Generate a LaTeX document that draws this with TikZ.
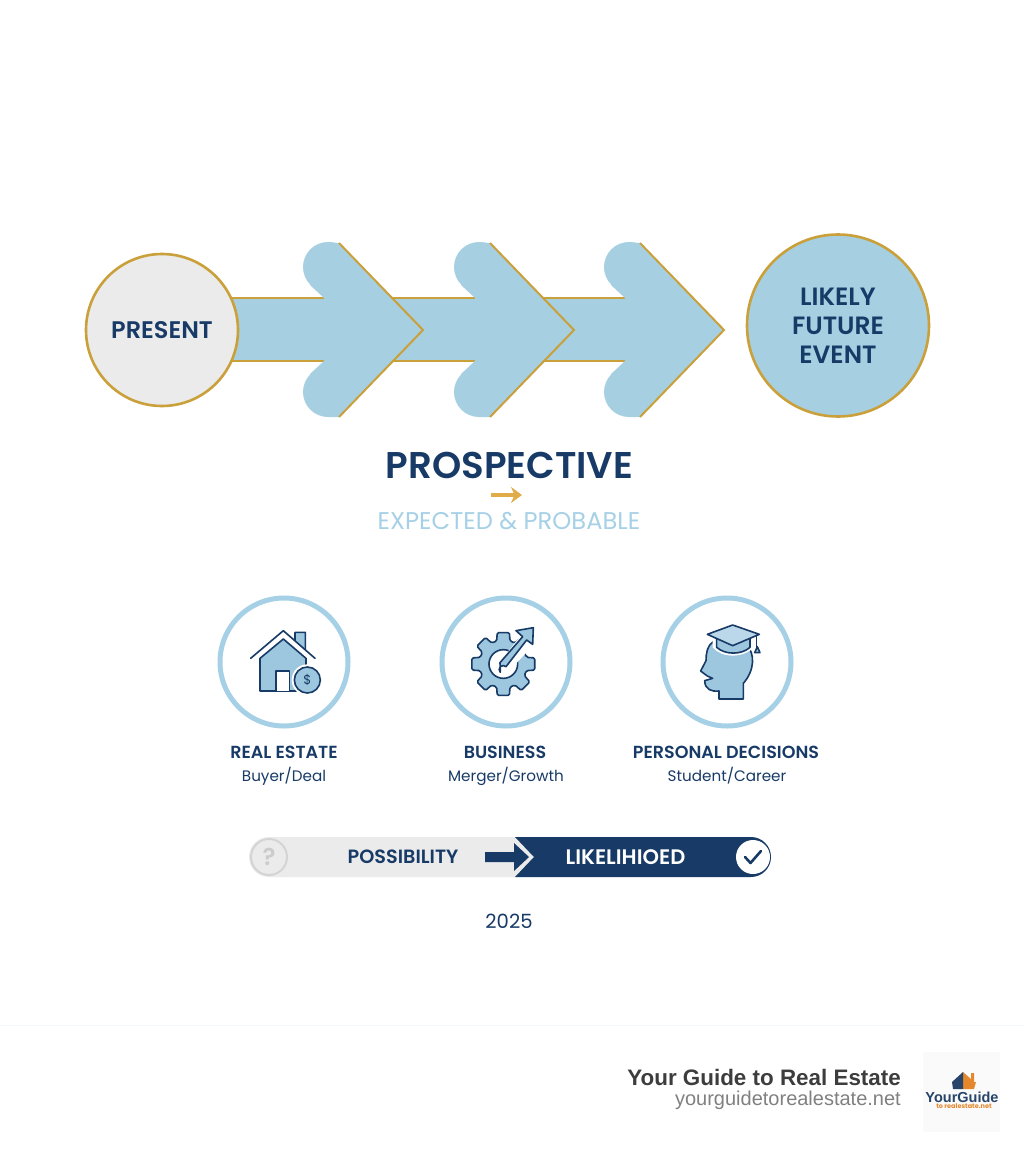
\documentclass[tikz,border=0pt]{standalone}
\usepackage{fontspec}
\setmainfont{Poppins}
\newfontfamily\headfont{Poppins SemiBold}
\newfontfamily\footfont{Liberation Sans}
\usetikzlibrary{arrows.meta}

\definecolor{navy}{HTML}{173A66}
\definecolor{sky}{HTML}{A6CFE2}
\definecolor{ring}{HTML}{A5D0E6}
\definecolor{gold}{HTML}{C9A03A}
\definecolor{lightgold}{HTML}{E0AC4A}
\definecolor{paleg}{HTML}{EBEBEC}
\definecolor{iconblue}{HTML}{9CC7DF}
\definecolor{brandor}{HTML}{E5872C}

\tikzset{
    goldline/.style={draw=gold, line width=2pt},
    bigcircle/.style={circle, draw=gold, line width=2.6pt, inner sep=0pt, align=center, text=navy},
    iconring/.style={circle, draw=ring, line width=5pt, fill=white, minimum size=128pt, inner sep=0pt},
    icon/.style={draw=navy, line width=1.6pt, fill=iconblue, line join=round},
    heading/.style={text=navy, font=\headfont\fontsize{17.5}{20}\selectfont, inner sep=0pt},
    subheading/.style={text=navy, font=\fontsize{15.2}{18}\selectfont, inner sep=0pt}
}

\begin{document}
\begin{tikzpicture}[x=1pt, y=-1pt]
    \useasboundingbox (0, 0) rectangle (1024, 1154);

    % shaft behind the heads
    \fill [sky] (200, 298) rectangle (650, 361);
    \foreach \from/\to in {200/324, 390/475, 540/625} {
        \draw [goldline] (\from, 298) -- (\to, 298);
        \draw [goldline] (\from, 361) -- (\to, 361);
    }

    % three arrow heads
    \foreach \dx in {0, 151, 301} {
        \begin{scope}[xshift=\dx pt]
            \fill [sky] (328, 267) circle (25);
            \fill [sky] (328, 392) circle (25);
            \fill [sky] (328, 242) -- (339, 243) -- (423, 330) -- (339, 417) -- (328, 417)
                -- (310, 374) -- (324, 361) -- (324, 298) -- (310, 285) -- cycle;
            \draw [goldline, line join=miter] (339, 243) -- (423, 330) -- (339, 417);
        \end{scope}
    }

    \node [bigcircle, fill=paleg, minimum size=152pt, font=\headfont\fontsize{24}{28}\selectfont] (present) at (162, 330) {PRESENT};
    \node [bigcircle, fill=sky, minimum size=182pt, font=\headfont\fontsize{25}{29}\selectfont] (future) at (838, 325.5) {LIKELY\\FUTURE\\EVENT};

    \node [text=navy, font=\headfont\fontsize{37.2}{42}\selectfont, inner sep=0pt] (prospective) at (509.5, 465) {PROSPECTIVE};
    \coordinate (goldstart) at (491, 495);
    \coordinate (goldend) at (522, 495);
    \draw [-{Stealth[length=11pt, width=16pt]}, line width=3.2pt, draw=lightgold] (goldstart) -- (goldend);
    \node [text=ring, font=\fontsize{24.2}{28}\selectfont, inner sep=0pt] (expected) at (509, 521) {EXPECTED \& PROBABLE};

    % icon rings
    \node [iconring] (estate) at (284, 662) {};
    \node [iconring] (business) at (506, 662) {};
    \node [iconring] (personal) at (727, 662) {};

    % house
    \begin{scope}[shift={(200, 590)}, scale=1/3]
        \draw [icon] (285, 165) -- (285, 127) -- (316, 127) -- (316, 195) -- cycle;
        \fill [white] (250, 122) -- (345, 205) -- (318, 205) -- (250, 147) -- (180, 205) -- (152, 205) -- cycle;
        \draw [icon] (180, 205) -- (250, 147) -- (318, 205) -- (318, 303) -- (180, 303) -- cycle;
        \draw [icon, line cap=round, fill=none] (152, 205) -- (250, 122) -- (345, 205);
        \draw [icon, fill=white] (228, 303) -- (228, 243) -- (268, 243) -- (268, 303);
        \fill [white] (322, 270) circle (47);
        \draw [icon] (322, 270) circle (39);
    \end{scope}
    \node [text=navy, font=\fontsize{13}{13}\selectfont, inner sep=0pt] (dollar) at (307.5, 680) {\$};

    % gear
    \begin{scope}[shift={(200, 590)}, scale=1/3]
        \draw [icon, rounded corners=1.5pt] ([shift={(910, 222)}]-16:72)
            \foreach \a in {0, 45, ..., 315} {
                -- ([shift={(910, 222)}]\a-16:72) -- ([shift={(910, 222)}]\a-11:96)
                -- ([shift={(910, 222)}]\a+11:96) -- ([shift={(910, 222)}]\a+16:72)
            } -- cycle;
        \draw [draw=navy, line width=1.6pt, fill=white] (910, 222) circle (43);
        \fill [white] (895, 222) -- (975, 120) -- (1015, 150) -- (925, 245) -- cycle;
        \draw [icon] (900, 218) -- (968, 140) -- (948, 122) -- (1000, 113) -- (998, 163) -- (980, 150)
            -- (918, 230) arc (-45:-225:12) -- cycle;
    \end{scope}

    % head with cap
    \begin{scope}[shift={(600, 590)}, scale=1/3]
        \draw [icon] (357, 327) -- (357, 303) .. controls (335, 305) and (315, 300) .. (314, 272)
            -- (338, 265) -- (322, 258) -- (302, 243) -- (318, 212) .. controls (318, 190) and (322, 165) .. (340, 155)
            -- (440, 165) .. controls (465, 190) and (465, 240) .. (430, 280) -- (430, 327) -- cycle;
        \fill [white] (338, 145) -- (338, 172) .. controls (365, 205) and (430, 205) .. (462, 172) -- (462, 145) -- cycle;
        \draw [icon] (350, 145) -- (350, 172) .. controls (375, 195) and (425, 195) .. (450, 172) -- (450, 145);
        \draw [icon, fill=iconblue!70!white] (322, 133) -- (398, 105) -- (478, 133) -- (398, 167) -- cycle;
        \draw [draw=navy, line width=1.6pt] (470, 137) -- (470, 170);
        \draw [icon] (464, 188) -- (472, 170) -- (480, 188) -- cycle;
    \end{scope}

    \node [heading] (estatetitle) at (284, 752) {REAL ESTATE};
    \node [subheading] (estatesub) at (284, 776) {Buyer/Deal};
    \node [heading] (businesstitle) at (505, 752) {BUSINESS};
    \node [subheading] (businesssub) at (506, 776) {Merger/Growth};
    \node [heading] (personaltitle) at (726, 752) {PERSONAL DECISIONS};
    \node [subheading] (personalsub) at (727, 776) {Student/Career};

    % possibility to likelihood bar
    \fill [paleg, rounded corners=20pt] (249, 837) rectangle (560, 877);
    \fill [navy] (515, 837) -- (751, 837) arc (-90:90:20) -- (515, 877) -- (534, 857) -- cycle;
    \node [circle, draw=black!17, line width=2pt, minimum size=36pt, inner sep=0pt, text=black!20, font=\headfont\fontsize{24}{24}\selectfont] (question) at (269, 857) {?};
    \node [heading, font=\headfont\fontsize{19.2}{20}\selectfont] (possibility) at (403, 857) {POSSIBILITY};
    \fill [navy] (485, 852) -- (514, 852) -- (514, 843) -- (529, 857) -- (514, 871) -- (514, 862) -- (485, 862) -- cycle;
    \node [heading, text=white, font=\headfont\fontsize{21}{22}\selectfont] (likelihood) at (625.5, 857) {LIKELIHIOED};
    \node [circle, fill=white, minimum size=34pt, inner sep=0pt] (check) at (753, 857) {};
    \draw [navy, line width=2.6pt, line cap=round, line join=round] (745, 857) -- (750.5, 863) -- (761, 851);

    \node [subheading, font=\fontsize{19.6}{22}\selectfont] (year) at (509, 921) {2025};

    % footer
    \draw [black!4!cyan!6!white, line width=0.6pt] (0, 1025) -- (1024, 1025);
    \node [anchor=east, inner sep=0pt, text=black!76, font=\footfont\bfseries\fontsize{22.4}{26}\selectfont] (guide) at (901, 1077) {Your Guide to Real Estate};
    \node [anchor=east, inner sep=0pt, text=black!50, font=\footfont\fontsize{20}{24}\selectfont] (site) at (901, 1100) {yourguidetorealestate.net};

    % logo
    \fill [black!2] (923, 1052) rectangle (1000, 1132);
    \fill [brandor] (963, 1072) -- (971, 1079) -- (971, 1073) -- (974, 1073) -- (974, 1082) -- (976, 1082) -- (974, 1089) -- (963, 1089) -- cycle;
    \fill [navy!85!gray] (963, 1072) -- (952, 1082) -- (953, 1089) -- (963, 1089) -- cycle;
    \node [text=navy!85!gray, inner sep=0pt, font=\footfont\bfseries\fontsize{14.5}{16}\selectfont] (logoname) at (962, 1097) {YourGuide};
    \node [text=brandor, inner sep=0pt, font=\bfseries\fontsize{6.5}{8}\selectfont] (logotag) at (964, 1106) {to realestate.net};
\end{tikzpicture}
\end{document}
